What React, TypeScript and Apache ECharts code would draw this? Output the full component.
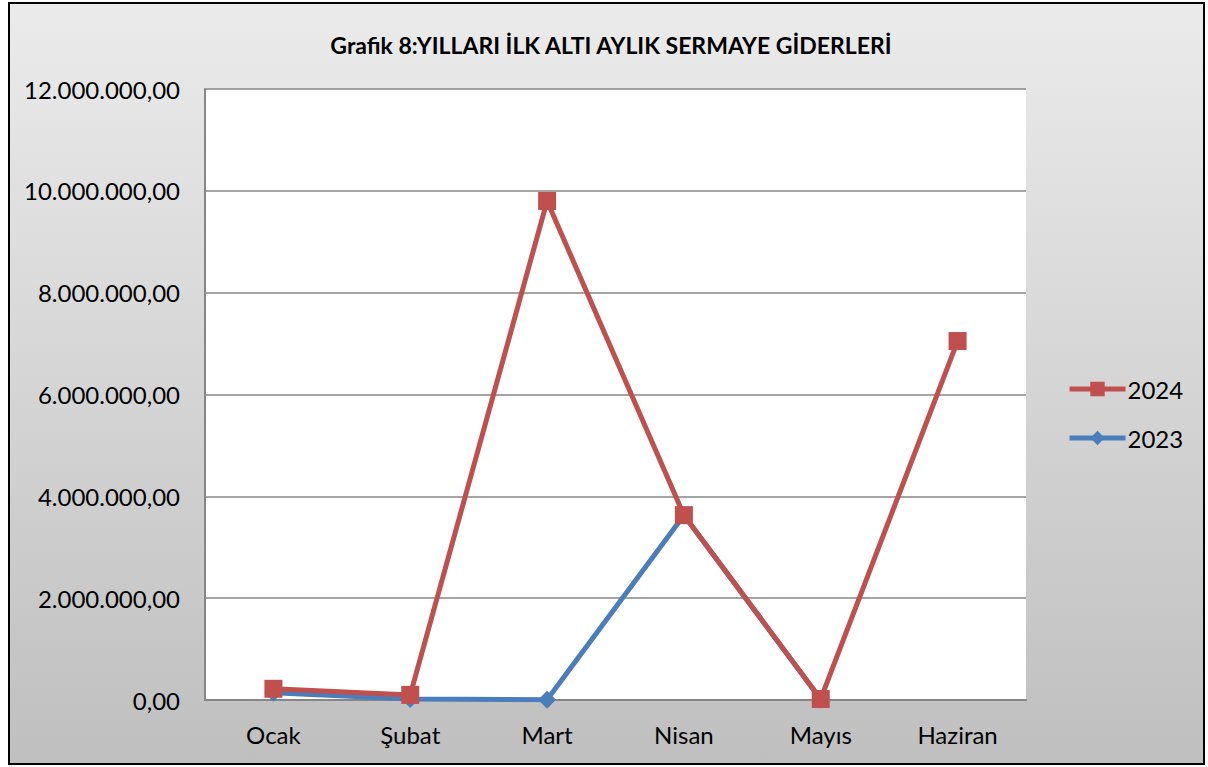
import React, { useEffect, useRef } from "react";
import * as echarts from "echarts";

const titleText = "Grafik 8:YILLARI İLK ALTI AYLIK SERMAYE GİDERLERİ";
const months = ["Ocak", "Şubat", "Mart", "Nisan", "Mayıs", "Haziran"];
const values2024 = [220000, 100000, 9800000, 3630000, 20000, 7050000];
const values2023 = [140000, 20000, 5000, 3630000, 10000, null];
const yMax = 12000000;
const yStep = 2000000;

const FONT = "Lato";

function fmtTR(v: number): string {
  const s = Math.round(v).toString().replace(/\B(?=(\d{3})+(?!\d))/g, ".");
  return s + ",00";
}

export default function App() {
  const ref = useRef<HTMLDivElement>(null);
  useEffect(() => {
    if (!ref.current) return;
    const chart = echarts.init(ref.current, null, { renderer: "svg" });
    chart.setOption({
      animation: false,
      backgroundColor: "transparent",
      textStyle: { fontFamily: FONT },
      graphic: [
        {
          type: "rect",
          z: -10,
          shape: { x: 9, y: 3, width: 1195, height: 761 },
          style: {
            stroke: "#000",
            lineWidth: 2,
            fill: new echarts.graphic.LinearGradient(0, 0, 0, 1, [
              { offset: 0, color: "#ebebeb" },
              { offset: 1, color: "#bfbfbf" },
            ]),
          },
        },
      ],
      title: {
        text: titleText,
        left: 606,
        textAlign: "center",
        top: 28,
        textStyle: { fontFamily: FONT, fontWeight: "bold", fontSize: 23, color: "#000" },
      },
      legend: {
        orient: "vertical",
        left: 1062,
        top: 372,
        itemWidth: 56,
        itemHeight: 18,
        itemGap: 25,
        data: ["2024", "2023"],
        lineStyle: { width: 5 },
        textStyle: { fontFamily: FONT, fontSize: 24, color: "#000", padding: [0, 0, 0, -3] },
      },
      grid: {
        left: 205,
        top: 89,
        width: 821,
        height: 611,
        show: true,
        backgroundColor: "#fff",
        borderWidth: 0,
      },
      xAxis: {
        type: "category",
        data: months,
        boundaryGap: true,
        axisLine: { lineStyle: { color: "#868686", width: 2 } },
        axisTick: { show: false },
        axisLabel: { color: "#000", fontSize: 24, fontFamily: FONT, margin: 22 },
      },
      yAxis: {
        type: "value",
        min: 0,
        max: yMax,
        interval: yStep,
        axisLine: { show: true, lineStyle: { color: "#868686", width: 2 } },
        axisTick: { show: false },
        splitLine: { lineStyle: { color: "#868686", width: 1.5 } },
        axisLabel: {
          color: "#000",
          fontSize: 24,
          fontFamily: FONT,
          margin: 25,
          formatter: (v: number) => fmtTR(v),
        },
      },
      series: [
        {
          name: "2023",
          type: "line",
          data: values2023,
          symbol: "diamond",
          symbolSize: 18,
          lineStyle: { color: "#4a7ebb", width: 5 },
          itemStyle: { color: "#4a7ebb" },
        },
        {
          name: "2024",
          type: "line",
          data: values2024,
          symbol: "rect",
          symbolSize: 18,
          lineStyle: { color: "#c0504d", width: 5 },
          itemStyle: { color: "#c0504d" },
        },
      ],
    });
    return () => chart.dispose();
  }, []);
  return (
    <div
      ref={ref}
      style={{ position: "absolute", left: 0, top: 0, width: 1208, height: 767 }}
    />
  );
}
